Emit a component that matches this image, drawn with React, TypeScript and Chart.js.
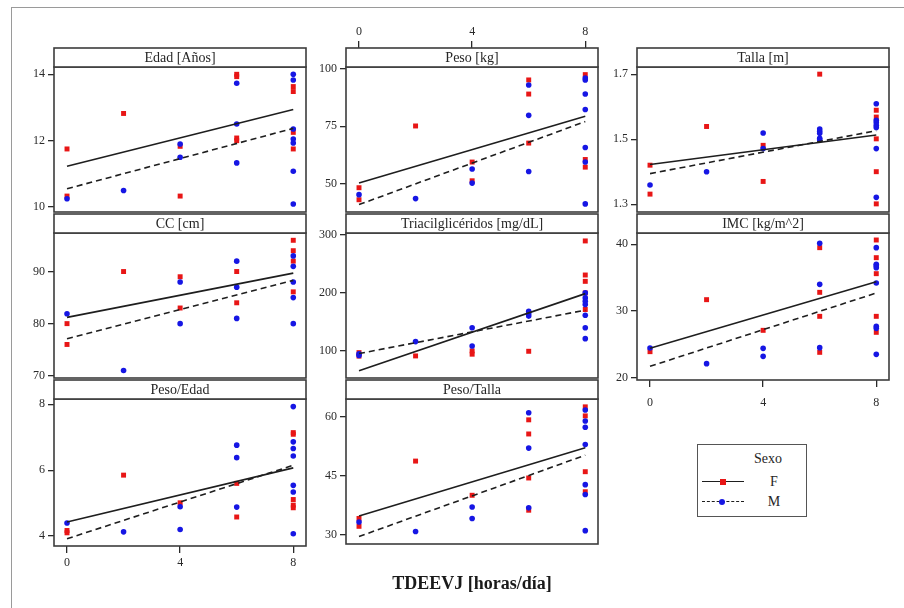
import React, { useEffect, useRef } from 'react';
import { Chart, registerables } from 'chart.js';
Chart.register(...registerables);

const SERIF = '"Liberation Serif", "Times New Roman", serif';
const RED = 'rgb(232,22,22)';
const BLUE = 'rgb(22,22,228)';

// x axis (TDEEVJ horas/día)
const xTicks = [0, 4, 8];
const fitX = [0, 8];
const xMin = -0.46;
const xMax = 8.45;

// ---- data: [x, y] pairs per sex ----
const edadF = [[0, 11.75], [0, 10.33], [2, 12.82], [4, 11.83], [4, 10.33], [6, 14.0], [6, 13.93], [6, 12.08], [6, 12.0], [8, 13.63], [8, 13.48], [8, 12.25], [8, 11.75]];
const edadM = [[0, 10.25], [2, 10.5], [4, 11.9], [4, 11.5], [6, 13.73], [6, 12.5], [6, 11.33], [8, 14.0], [8, 13.83], [8, 12.35], [8, 12.05], [8, 11.93], [8, 11.08], [8, 10.09]];
const edadFitF = [11.23, 12.94];
const edadFitM = [10.55, 12.37];
const edadTicks = [10, 12, 14];

const pesoF = [[0, 48.4], [0, 43.2], [2, 75.1], [4, 59.5], [4, 51.4], [6, 95], [6, 88.9], [6, 67.7], [8, 97.3], [8, 60.6], [8, 57.3]];
const pesoM = [[0, 45.4], [2, 43.7], [4, 56.5], [4, 50.4], [6, 92.8], [6, 79.7], [6, 55.4], [8, 95.8], [8, 95.0], [8, 88.9], [8, 82.2], [8, 65.8], [8, 59.5], [8, 41.4]];
const pesoFitF = [50.4, 79.3];
const pesoFitM = [41.1, 77.0];
const pesoTicks = [50, 75, 100];

const tallaF = [[0, 1.42], [0, 1.331], [2, 1.539], [4, 1.481], [4, 1.37], [6, 1.7], [8, 1.589], [8, 1.568], [8, 1.501], [8, 1.4], [8, 1.301]];
const tallaM = [[0, 1.359], [2, 1.4], [4, 1.519], [4, 1.471], [6, 1.531], [6, 1.524], [6, 1.518], [6, 1.503], [6, 1.498], [8, 1.609], [8, 1.558], [8, 1.551], [8, 1.543], [8, 1.536], [8, 1.471], [8, 1.321]];
const tallaFitF = [1.422, 1.513];
const tallaFitM = [1.394, 1.526];
const tallaTicks = [1.3, 1.5, 1.7];

const ccF = [[0, 80], [0, 76], [2, 90], [4, 89], [4, 83], [6, 90], [6, 84], [8, 96], [8, 94], [8, 92], [8, 86.1]];
const ccM = [[0, 81.9], [2, 71], [4, 88], [4, 80], [6, 92], [6, 87], [6, 81], [8, 93], [8, 91], [8, 88], [8, 85], [8, 80]];
const ccFitF = [81.2, 89.7];
const ccFitM = [77.1, 88.3];
const ccTicks = [70, 80, 90];

const trigF = [[0, 97], [0, 91], [2, 91.3], [4, 100], [4, 94.3], [6, 99.3], [8, 289.7], [8, 230.9], [8, 220], [8, 200], [8, 171.4]];
const trigM = [[0, 95], [0, 92], [2, 116], [4, 140], [4, 108.4], [6, 168.4], [6, 164], [6, 160], [8, 200], [8, 191.4], [8, 185.6], [8, 180], [8, 161.6], [8, 140], [8, 121.1]];
const trigFitF = [65.6, 198.8];
const trigFitM = [95.4, 170.2];
const trigTicks = [100, 200, 300];

const imcF = [[0, 23.9], [2, 31.7], [4, 27.1], [6, 39.5], [6, 32.8], [6, 29.2], [6, 23.8], [8, 40.65], [8, 38.0], [8, 35.6], [8, 29.2], [8, 26.8]];
const imcM = [[0, 24.44], [2, 22.1], [4, 24.4], [4, 23.2], [6, 40.15], [6, 34.0], [6, 24.5], [8, 39.5], [8, 37.0], [8, 36.8], [8, 36.5], [8, 34.2], [8, 27.7], [8, 27.4], [8, 23.5]];
const imcFitF = [24.4, 34.4];
const imcFitM = [21.7, 32.7];
const imcTicks = [20, 30, 40];

const peF = [[0, 4.17], [0, 4.1], [2, 5.85], [4, 5.01], [6, 5.6], [6, 4.58], [8, 7.14], [8, 7.09], [8, 5.11], [8, 4.94], [8, 4.86]];
const peM = [[0, 4.4], [2, 4.13], [4, 4.89], [4, 4.2], [6, 6.76], [6, 6.38], [6, 4.88], [8, 7.93], [8, 6.86], [8, 6.66], [8, 6.43], [8, 5.54], [8, 5.34], [8, 4.07]];
const peFitF = [4.43, 6.07];
const peFitM = [3.92, 6.15];
const peTicks = [4, 6, 8];

const ptF = [[0, 34.2], [0, 32.2], [2, 48.8], [4, 40.1], [6, 59.3], [6, 55.7], [6, 44.5], [6, 36.3], [8, 62.6], [8, 60.3], [8, 46.1], [8, 41.0]];
const ptM = [[0, 33.3], [2, 30.9], [4, 37.1], [4, 34.2], [6, 61.1], [6, 52.1], [6, 36.9], [8, 61.8], [8, 59.0], [8, 57.4], [8, 53.0], [8, 42.8], [8, 40.3], [8, 31.1]];
const ptFitF = [34.8, 52.2];
const ptFitM = [29.6, 50.3];
const ptTicks = [30, 45, 60];

// ---- layout ----
const COL_LEFT = [54, 346, 637];
const STRIP_TOP = [48, 214, 380];
const PANEL_W = 254;
const PANEL_H = 147;
const STRIP_H = 19;
const YAXIS_W = 45;

type Panel = {
  title: string; F: number[][]; M: number[][]; fitF: number[]; fitM: number[];
  yMin: number; yMax: number; yTicks: number[]; col: number; row: number;
  xAxis: 'none' | 'top' | 'bottom'; xGap?: number;
};

const panels: Panel[] = [
  { title: 'Edad [Años]', F: edadF, M: edadM, fitF: edadFitF, fitM: edadFitM, yMin: 9.85, yMax: 14.22, yTicks: edadTicks, col: 0, row: 0, xAxis: 'none' },
  { title: 'Peso [kg]', F: pesoF, M: pesoM, fitF: pesoFitF, fitM: pesoFitM, yMin: 37.9, yMax: 100.6, yTicks: pesoTicks, col: 1, row: 0, xAxis: 'top' },
  { title: 'Talla [m]', F: tallaF, M: tallaM, fitF: tallaFitF, fitM: tallaFitM, yMin: 1.276, yMax: 1.722, yTicks: tallaTicks, col: 2, row: 0, xAxis: 'none' },
  { title: 'CC [cm]', F: ccF, M: ccM, fitF: ccFitF, fitM: ccFitM, yMin: 69.56, yMax: 97.4, yTicks: ccTicks, col: 0, row: 1, xAxis: 'none' },
  { title: 'Triacilglicéridos [mg/dL]', F: trigF, M: trigM, fitF: trigFitF, fitM: trigFitM, yMin: 53.2, yMax: 303.4, yTicks: trigTicks, col: 1, row: 1, xAxis: 'none' },
  { title: 'IMC [kg/m^2]', F: imcF, M: imcM, fitF: imcFitF, fitM: imcFitM, yMin: 19.65, yMax: 41.7, yTicks: imcTicks, col: 2, row: 1, xAxis: 'bottom', xGap: 9 },
  { title: 'Peso/Edad', F: peF, M: peM, fitF: peFitF, fitM: peFitM, yMin: 3.7, yMax: 8.16, yTicks: peTicks, col: 0, row: 2, xAxis: 'bottom', xGap: 3 },
  { title: 'Peso/Talla', F: ptF, M: ptM, fitF: ptFitF, fitM: ptFitM, yMin: 27.7, yMax: 64.6, yTicks: ptTicks, col: 1, row: 2, xAxis: 'none' },
];

const TICK_COLOR = '#2a2a2a';
const tickFont = { family: SERIF, size: 12 };

function PanelChart({ p }: { p: Panel }) {
  const ref = useRef<HTMLCanvasElement>(null);
  const stripTop = STRIP_TOP[p.row];
  let canvasTop: number, height: number, padTop: number, padBottom: number;
  if (p.xAxis === 'top') {
    canvasTop = stripTop - 29; padTop = 1; padBottom = 2;
    height = 29 + STRIP_H + PANEL_H + 2;
  } else if (p.xAxis === 'bottom') {
    canvasTop = stripTop - 1; padTop = STRIP_H + 1; padBottom = 0;
    height = STRIP_H + 1 + PANEL_H + 40;
  } else {
    canvasTop = stripTop - 1; padTop = STRIP_H + 1; padBottom = 2;
    height = STRIP_H + 1 + PANEL_H + 2;
  }
  const left = COL_LEFT[p.col] - YAXIS_W;
  const width = YAXIS_W + PANEL_W + 2;

  useEffect(() => {
    const pts = (arr: number[][]) => arr.map(([x, y]) => ({ x, y }));
    const fit = (arr: number[]) => fitX.map((x, i) => ({ x, y: arr[i] }));
    const xTickSet = (s: any) => { s.ticks = xTicks.map((v) => ({ value: v })); };
    const xHeight = p.xAxis === 'top' ? 28 : p.xAxis === 'bottom' ? 40 : 0;
    const scales: any = {
      y: {
        type: 'linear', min: p.yMin, max: p.yMax, position: 'left',
        afterBuildTicks: (s: any) => { s.ticks = p.yTicks.map((v) => ({ value: v })); },
        afterFit: (s: any) => { s.width = YAXIS_W; s.paddingTop = 0; s.paddingBottom = 0; },
        ticks: { autoSkip: false, font: tickFont, color: TICK_COLOR, padding: 3, callback: (v: any) => String(v) },
        grid: { display: true, drawOnChartArea: false, drawTicks: true, tickLength: 6, tickColor: TICK_COLOR, color: TICK_COLOR, lineWidth: 1.3 },
        border: { display: false },
      },
      x: {
        type: 'linear', min: xMin, max: xMax, display: p.xAxis !== 'none',
        position: p.xAxis === 'top' ? 'top' : 'bottom', weight: 1,
        afterBuildTicks: xTickSet,
        afterFit: (s: any) => { s.height = xHeight; s.paddingLeft = 0; s.paddingRight = 0; },
        ticks: { autoSkip: false, font: tickFont, color: TICK_COLOR, padding: p.xAxis === 'top' ? 2 : (p.xGap ?? 3), maxRotation: 0, callback: (v: any) => String(v) },
        grid: { display: true, drawOnChartArea: false, drawTicks: true, tickLength: 7, tickColor: TICK_COLOR, color: TICK_COLOR, lineWidth: 1.3 },
        border: { display: false },
      },
    };
    if (p.xAxis === 'top') {
      scales.xs = {
        type: 'linear', min: xMin, max: xMax, display: true, position: 'top', weight: 0,
        afterFit: (s: any) => { s.height = STRIP_H; s.paddingLeft = 0; s.paddingRight = 0; },
        ticks: { display: false },
        grid: { display: false },
        border: { display: false },
      };
    }
    const framePlugin = {
      id: 'frame',
      afterDraw(chart: any) {
        const { ctx, chartArea } = chart;
        const { left: l, top: t, right: r, bottom: b } = chartArea;
        ctx.save();
        ctx.lineWidth = 1.6;
        ctx.strokeStyle = '#3c3c3c';
        ctx.strokeRect(l, t, r - l, b - t);
        ctx.fillStyle = '#ffffff';
        ctx.fillRect(l, t - STRIP_H, r - l, STRIP_H);
        ctx.strokeRect(l, t - STRIP_H, r - l, STRIP_H);
        ctx.fillStyle = '#262626';
        ctx.font = `14px ${SERIF}`;
        ctx.textAlign = 'center';
        ctx.textBaseline = 'middle';
        ctx.fillText(p.title, (l + r) / 2, t - STRIP_H / 2 + 1);
        ctx.restore();
      },
    };
    const chart = new Chart(ref.current as HTMLCanvasElement, {
      type: 'scatter',
      data: {
        datasets: [
          { label: 'F ajuste', data: fit(p.fitF), showLine: true, borderColor: '#1e1e1e', borderWidth: 1.6, pointRadius: 0, order: 0 } as any,
          { label: 'M ajuste', data: fit(p.fitM), showLine: true, borderColor: '#1e1e1e', borderWidth: 1.6, borderDash: [6, 4], pointRadius: 0, order: 1 } as any,
          { label: 'M', data: pts(p.M), pointStyle: 'circle', pointRadius: 2.8, backgroundColor: BLUE, borderWidth: 0, pointBorderWidth: 0, order: 2 } as any,
          { label: 'F', data: pts(p.F), pointStyle: 'rect', pointRadius: 3.5, backgroundColor: RED, borderWidth: 0, pointBorderWidth: 0, order: 3 } as any,
        ],
      },
      options: {
        animation: false,
        responsive: false,
        devicePixelRatio: 1,
        events: [],
        layout: { padding: { left: 0, right: 2, top: padTop, bottom: padBottom } },
        plugins: { legend: { display: false }, tooltip: { enabled: false }, title: { display: false } },
        scales,
      } as any,
      plugins: [framePlugin],
    });
    return () => chart.destroy();
  }, []);

  return (
    <canvas
      ref={ref}
      width={width}
      height={height}
      style={{ position: 'absolute', left, top: canvasTop, width, height }}
    />
  );
}

export default function App() {
  const textStyle: React.CSSProperties = { position: 'absolute', fontFamily: SERIF, color: '#262626', fontSize: 14, lineHeight: '16px' };
  return (
    <div style={{ position: 'fixed', left: 0, top: 0, width: 904, height: 608, background: '#fff', overflow: 'hidden' }}>
      <div style={{ position: 'absolute', left: 11, top: 7, width: 904, height: 620, borderLeft: '1.5px solid #9a9a9a', borderTop: '1.5px solid #9a9a9a' }} />
      {panels.map((p) => <PanelChart key={p.title} p={p} />)}
      <div style={{ position: 'absolute', left: 332, top: 572, width: 280, textAlign: 'center', fontFamily: SERIF, fontWeight: 'bold', fontSize: 18, lineHeight: '22px', color: '#1a1a1a' }}>
        TDEEVJ [horas/día]
      </div>
      <div style={{ position: 'absolute', left: 697, top: 444, width: 108, height: 71, border: '1.5px solid #555' }} />
      <div style={{ ...textStyle, left: 740, top: 451, width: 56, textAlign: 'center' }}>Sexo</div>
      <div style={{ position: 'absolute', left: 702, top: 481, width: 42, borderTop: '1.5px solid #1e1e1e' }} />
      <div style={{ position: 'absolute', left: 720, top: 479, width: 6, height: 6, background: RED }} />
      <div style={{ ...textStyle, left: 764, top: 474, width: 20, textAlign: 'center' }}>F</div>
      <div style={{ position: 'absolute', left: 702, top: 501, width: 42, borderTop: '1.5px dashed #1e1e1e' }} />
      <div style={{ position: 'absolute', left: 719, top: 499, width: 6, height: 6, borderRadius: 3, background: BLUE }} />
      <div style={{ ...textStyle, left: 764, top: 494, width: 20, textAlign: 'center' }}>M</div>
    </div>
  );
}
